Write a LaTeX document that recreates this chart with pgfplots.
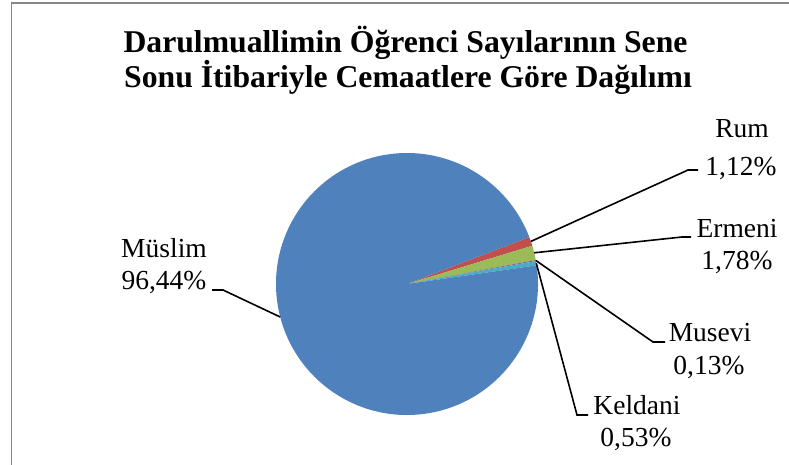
\documentclass[border=0pt]{standalone}
\usepackage{pgfplots}
\pgfplotsset{compat=1.18}
\usepackage{fontspec}
\setmainfont{Liberation Serif}
\definecolor{muslc}{HTML}{4F81BD}
\definecolor{rumc}{HTML}{C0504D}
\definecolor{ermc}{HTML}{9BBB59}
\definecolor{musc}{HTML}{8064A2}
\definecolor{kelc}{HTML}{4BACC6}
\definecolor{framec}{HTML}{878787}
\begin{document}
\begin{tikzpicture}
\path[use as bounding box] (0,0) rectangle (789pt,465pt);
\begin{axis}[
  at={(0,0)}, anchor=south west,
  scale only axis, width=789pt, height=465pt,
  xmin=0, xmax=789, ymin=0, ymax=465,
  hide axis, clip=false]
% frame (left and top edges visible)
\draw[framec, line width=1.5pt] (axis cs:11.5,-5) -- (axis cs:11.5,462) -- (axis cs:800,462);
% pie slices: values in percent, clockwise from start angle 21 deg
\pgfplotsextra{
  \def\pa{21}
  \foreach \v/\c in {1.12/rumc,1.78/ermc,0.13/musc,0.53/kelc,96.44/muslc}{
    \pgfmathsetmacro\pb{\pa-3.6*\v}
    \fill[\c] (axis cs:407,181) -- ++(\pa:131pt) arc[start angle=\pa, end angle=\pb, radius=131pt] -- cycle;
    \global\let\pa\pb
  }
}
% leader lines
\draw[black, line width=1.6pt] (axis cs:530.9,223.6) -- (axis cs:688,295) -- (axis cs:698,295);
\draw[black, line width=1.6pt] (axis cs:534.2,212.2) -- (axis cs:682,228) -- (axis cs:691,228);
\draw[black, line width=1.6pt] (axis cs:535.9,204.5) -- (axis cs:653,123) -- (axis cs:665,123);
\draw[black, line width=1.6pt] (axis cs:536.3,201.8) -- (axis cs:577,50) -- (axis cs:588,50);
\draw[black, line width=1.6pt] (axis cs:280.2,148) -- (axis cs:223,175) -- (axis cs:212,175);
% title
\node[anchor=base, font=\fontsize{31.7}{35}\selectfont\bfseries] at (axis cs:405.5,412) {Darulmuallimin Öğrenci Sayılarının Sene};
\node[anchor=base, font=\fontsize{31.7}{35}\selectfont\bfseries] at (axis cs:408,377) {Sonu İtibariyle Cemaatlere Göre Dağılımı};
% labels
\tikzset{lbl/.style={anchor=base, inner sep=0pt, font=\fontsize{27.5}{33}\selectfont}}
\node[lbl] at (axis cs:742,327) {Rum};
\node[lbl] at (axis cs:741,289) {1,12\%};
\node[lbl] at (axis cs:737,227) {Ermeni};
\node[lbl] at (axis cs:737,195) {1,78\%};
\node[lbl] at (axis cs:710,123) {Musevi};
\node[lbl] at (axis cs:709,90) {0,13\%};
\node[lbl] at (axis cs:637,50) {Keldani};
\node[lbl] at (axis cs:636,18) {0,53\%};
\node[lbl] at (axis cs:164,207) {Müslim};
\node[lbl] at (axis cs:164,175) {96,44\%};
\end{axis}
\end{tikzpicture}
\end{document}
